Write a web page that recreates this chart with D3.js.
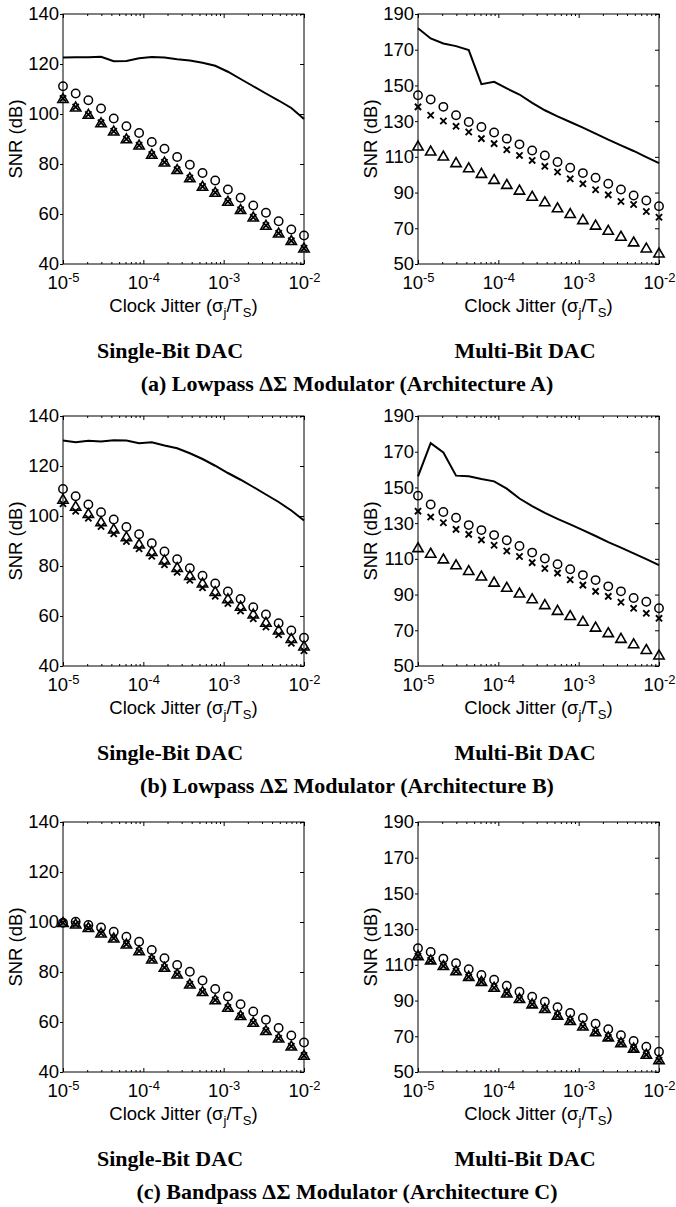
<!DOCTYPE html>
<html>
<head>
<meta charset="utf-8">
<script src="https://cdn.jsdelivr.net/npm/d3@7"></script>
<style>
  body { margin: 0; background: #fff; }
  svg { display: block; background: #fff; }
</style>
</head>
<body>
<svg class="chart"></svg>
<script>
//-----------------------------------------------------------------------
// SNR vs clock jitter, 3 modulator architectures x 2 DAC types
//-----------------------------------------------------------------------
const width = 676
const height = 1207

// jitter sample points (sigma_j / T_S), 20 points per decade sweep
const jitter = [1.000e-5, 1.438e-5, 2.069e-5, 2.976e-5, 4.281e-5, 6.158e-5, 8.859e-5,
  1.274e-4, 1.833e-4, 2.637e-4, 3.793e-4, 5.456e-4, 7.848e-4, 1.129e-3,
  1.624e-3, 2.336e-3, 3.360e-3, 4.833e-3, 6.952e-3, 1.000e-2]

// (a) architecture A, single-bit DAC
const lineA1  = [122.6, 122.7, 122.7, 122.9, 121.1, 121.2, 122.3, 122.8, 122.6, 121.9, 121.4, 120.5, 119.3, 116.9, 114.0, 111.1, 108.2, 105.4, 102.4, 98.0]
const circA1  = [111.1, 108.2, 105.5, 102.2, 98.2, 95.1, 92.4, 88.8, 86.1, 82.8, 79.7, 76.4, 73.4, 69.8, 66.5, 63.4, 60.5, 57.1, 53.8, 51.4]
const crossA1 = [106.2, 102.8, 99.8, 96.5, 93.1, 90.0, 87.5, 83.8, 80.7, 77.7, 74.4, 71.0, 68.6, 65.0, 61.7, 58.7, 55.4, 52.3, 49.3, 46.3]
const triA1   = [105.8, 102.4, 99.5, 96.1, 92.8, 89.7, 87.2, 83.5, 80.4, 77.4, 74.1, 70.7, 68.3, 64.7, 61.4, 58.4, 55.1, 52.0, 49.0, 46.0]

// (a) architecture A, multi-bit DAC
const lineA2  = [182.0, 176.3, 173.5, 172.0, 169.8, 150.7, 152.0, 148.3, 144.9, 140.2, 136.1, 132.7, 129.5, 126.4, 123.0, 119.6, 116.4, 113.3, 109.9, 106.5]
const circA2  = [144.5, 142.1, 138.0, 133.3, 129.5, 126.7, 123.6, 120.2, 117.0, 113.6, 110.8, 107.1, 103.9, 100.9, 98.3, 94.9, 91.7, 88.4, 85.6, 82.4]
const crossA2 = [138.0, 133.3, 130.1, 127.1, 123.9, 120.2, 117.4, 114.0, 110.8, 108.0, 104.7, 101.5, 97.7, 94.9, 91.6, 88.7, 85.0, 83.3, 79.4, 76.2]
const triA2   = [115.5, 112.7, 109.9, 106.2, 103.3, 100.2, 96.8, 94.0, 90.8, 87.4, 84.3, 80.9, 77.7, 74.3, 71.2, 68.3, 65.0, 61.8, 58.4, 55.6]

// (b) architecture B, single-bit DAC
const lineB1  = [130.2, 129.5, 130.1, 129.8, 130.3, 130.2, 129.1, 129.5, 128.2, 127.1, 125.1, 122.8, 120.1, 117.2, 114.5, 111.6, 108.6, 105.6, 102.2, 98.2]
const circB1  = [110.8, 107.9, 104.6, 101.5, 98.6, 95.6, 92.7, 89.1, 85.8, 82.7, 79.1, 76.1, 73.0, 69.8, 66.8, 63.5, 60.6, 57.1, 54.2, 51.3]
const crossB1 = [104.9, 101.9, 99.1, 95.8, 92.9, 89.8, 86.9, 83.9, 80.5, 77.5, 74.3, 71.3, 67.9, 65.0, 62.0, 58.9, 55.6, 52.5, 49.1, 46.1]
const triB1   = [106.3, 103.5, 100.6, 97.3, 94.4, 91.3, 88.4, 85.4, 82.0, 79.0, 75.8, 72.8, 69.4, 66.5, 63.5, 60.4, 57.1, 54.0, 50.6, 47.6]

// (b) architecture B, multi-bit DAC
const lineB2  = [156.2, 174.8, 169.6, 156.6, 156.2, 154.7, 153.4, 149.3, 143.8, 139.5, 135.8, 132.4, 129.3, 126.1, 122.8, 119.4, 116.3, 113.1, 109.8, 106.5]
const circB2  = [145.4, 140.4, 136.2, 133.0, 128.9, 126.1, 123.3, 120.4, 117.2, 113.5, 110.2, 107.0, 104.2, 100.9, 98.1, 94.6, 91.8, 88.1, 86.0, 82.3]
const crossB2 = [136.7, 133.4, 130.2, 126.5, 123.7, 120.6, 117.6, 114.4, 111.3, 107.9, 104.6, 102.0, 98.3, 95.3, 91.8, 89.0, 85.7, 82.3, 79.5, 76.7]
const triB2   = [115.7, 112.6, 109.4, 106.1, 102.9, 99.8, 96.4, 93.5, 90.3, 87.1, 83.8, 80.6, 77.7, 74.5, 71.2, 68.1, 64.9, 61.9, 58.7, 55.6]

// (c) architecture C (bandpass), no solid curve
const circC1  = [99.7, 100.1, 98.8, 97.8, 96.1, 94.1, 92.1, 88.8, 85.5, 82.8, 80.1, 76.6, 73.2, 70.2, 67.1, 64.2, 60.9, 57.6, 54.6, 51.8]
const crossC1 = [99.7, 99.1, 97.7, 95.5, 93.5, 91.1, 88.4, 85.1, 81.8, 79.1, 75.1, 72.1, 68.8, 65.8, 62.5, 59.8, 56.5, 53.5, 50.3, 46.6]
const triC1   = [99.4, 98.8, 97.4, 95.2, 93.2, 90.8, 88.1, 84.8, 81.5, 78.8, 74.8, 71.8, 68.5, 65.5, 62.2, 59.5, 56.2, 53.2, 50.0, 46.3]

const circC2  = [119.3, 117.2, 113.5, 110.9, 107.6, 104.3, 101.7, 98.3, 95.0, 92.2, 89.4, 86.3, 83.1, 80.2, 77.0, 73.9, 70.6, 67.4, 64.1, 61.3]
const crossC2 = [114.9, 112.5, 109.4, 106.4, 103.3, 100.5, 97.2, 94.0, 90.9, 87.9, 85.3, 81.6, 78.6, 75.5, 72.3, 69.4, 66.2, 63.1, 59.7, 56.6]
const triC2   = [114.6, 112.2, 109.1, 106.1, 103.0, 100.2, 96.9, 93.7, 90.6, 87.6, 85.0, 81.3, 78.3, 75.2, 72.0, 69.1, 65.9, 62.8, 59.4, 56.3]

// axes
const yDomains = [[40, 140], [50, 190]]
const yTicks = [[40, 60, 80, 100, 120, 140], [50, 70, 90, 110, 130, 150, 170, 190]]
const xMajor = [1e-5, 1e-4, 1e-3, 1e-2]
const xMinor = [2e-5, 3e-5, 4e-5, 5e-5, 6e-5, 7e-5, 8e-5, 9e-5,
  2e-4, 3e-4, 4e-4, 5e-4, 6e-4, 7e-4, 8e-4, 9e-4,
  2e-3, 3e-3, 4e-3, 5e-3, 6e-3, 7e-3, 8e-3, 9e-3]

// text
const colTitles = ['Single-Bit DAC', 'Multi-Bit DAC']
const rowTitles = ['(a) Lowpass \u0394\u03A3 Modulator (Architecture A)',
  '(b) Lowpass \u0394\u03A3 Modulator (Architecture B)',
  '(c) Bandpass \u0394\u03A3 Modulator (Architecture C)']

const panels = [
  { row: 0, col: 0, line: lineA1, circ: circA1, cross: crossA1, tri: triA1 },
  { row: 0, col: 1, line: lineA2, circ: circA2, cross: crossA2, tri: triA2 },
  { row: 1, col: 0, line: lineB1, circ: circB1, cross: crossB1, tri: triB1 },
  { row: 1, col: 1, line: lineB2, circ: circB2, cross: crossB2, tri: triB2 },
  { row: 2, col: 0, line: null, circ: circC1, cross: crossC1, tri: triC1 },
  { row: 2, col: 1, line: null, circ: circC2, cross: crossC2, tri: triC2 }
]

//--------------------LAYOUT----------------------//
const colLeft = [63, 418]
const rowTop = [14, 416, 822]
const plotW = 241
const plotH = 250
const sans = '"Liberation Sans", Arial, Helvetica, sans-serif'
const serif = '"Liberation Serif", "Times New Roman", Times, serif'
const fs = 18.5

const svg = d3.select('svg.chart')
  .attr('width', width)
  .attr('height', height)
  .attr('viewBox', `0 0 ${width} ${height}`)

const xScale = d3.scaleLog().domain([1e-5, 1e-2]).range([0, plotW])

function drawPanel(p) {
  const g = svg.append('g')
    .attr('transform', `translate(${colLeft[p.col]}, ${rowTop[p.row]})`)

  const yScale = d3.scaleLinear().domain(yDomains[p.col]).range([plotH, 0])

  // box
  g.append('rect')
    .attr('width', plotW).attr('height', plotH)
    .attr('fill', 'none').attr('stroke', '#000').attr('stroke-width', 1)

  // left axis with labels, right axis ticks only
  g.append('g')
    .call(d3.axisLeft(yScale).tickValues(yTicks[p.col]).tickSize(3).tickPadding(1))
    .call(a => a.select('.domain').remove())
    .attr('font-size', fs).attr('font-family', sans)

  g.append('g')
    .attr('transform', `translate(${plotW}, 0)`)
    .call(d3.axisRight(yScale).tickValues(yTicks[p.col]).tickSize(-4).tickFormat(''))
    .call(a => a.select('.domain').remove())

  // bottom axis: decade labels as 10^n
  g.append('g')
    .attr('transform', `translate(0, ${plotH})`)
    .call(d3.axisBottom(xScale).tickValues(xMajor).tickSize(-4).tickPadding(12))
    .call(a => a.select('.domain').remove())
    .attr('font-size', fs).attr('font-family', sans)
    .call(a => a.selectAll('.tick text').text(null).each(function (d) {
      const t = d3.select(this)
      t.append('tspan').text('10')
      t.append('tspan').attr('dy', '-0.55em').attr('font-size', 13).text(Math.round(Math.log10(d)))
    }))

  g.append('g')
    .attr('transform', `translate(0, ${plotH})`)
    .call(d3.axisBottom(xScale).tickValues(xMinor).tickSize(-2).tickFormat(''))
    .call(a => a.select('.domain').remove())

  // top axis ticks
  g.append('g')
    .call(d3.axisTop(xScale).tickValues(xMajor).tickSize(-4).tickFormat(''))
    .call(a => a.select('.domain').remove())
  g.append('g')
    .call(d3.axisTop(xScale).tickValues(xMinor).tickSize(-2).tickFormat(''))
    .call(a => a.select('.domain').remove())

  // axis titles
  g.append('text')
    .attr('transform', `translate(-41, ${plotH / 2}) rotate(-90)`)
    .attr('text-anchor', 'middle')
    .attr('font-family', sans).attr('font-size', fs)
    .text('SNR (dB)')

  const xl = g.append('text')
    .attr('x', plotW / 2).attr('y', plotH + 48)
    .attr('text-anchor', 'middle')
    .attr('font-family', sans).attr('font-size', fs)
  xl.append('tspan').text('Clock Jitter (\u03C3')
  xl.append('tspan').attr('dy', 5).attr('font-size', 13).text('j')
  xl.append('tspan').attr('dy', -5).text('/T')
  xl.append('tspan').attr('dy', 5).attr('font-size', 13).text('S')
  xl.append('tspan').attr('dy', -5).text(')')

  g.append('text')
    .attr('x', 107).attr('y', plotH + 94)
    .attr('text-anchor', 'middle')
    .attr('font-family', serif).attr('font-weight', 'bold').attr('font-size', 22)
    .text(colTitles[p.col])

  // data
  const plot = g.append('g')

  if (p.line) {
    const line = d3.line()
      .x((d, i) => xScale(jitter[i]))
      .y(d => yScale(d))
    plot.append('path')
      .datum(p.line)
      .attr('d', line)
      .attr('fill', 'none').attr('stroke', '#000').attr('stroke-width', 2)
  }

  plot.selectAll('circle.circ')
    .data(p.circ)
    .join('circle')
    .attr('class', 'circ')
    .attr('cx', (d, i) => xScale(jitter[i]))
    .attr('cy', d => yScale(d))
    .attr('r', 4.2)
    .attr('fill', 'none').attr('stroke', '#000').attr('stroke-width', 1.5)

  const tri = d3.symbol().type(d3.symbolTriangle).size(46)
  plot.selectAll('path.tri')
    .data(p.tri)
    .join('path')
    .attr('class', 'tri')
    .attr('d', tri)
    .attr('transform', (d, i) => `translate(${xScale(jitter[i])}, ${yScale(d)})`)
    .attr('fill', 'none').attr('stroke', '#000').attr('stroke-width', 1.6)

  const s = 3.1
  plot.selectAll('path.cross')
    .data(p.cross)
    .join('path')
    .attr('class', 'cross')
    .attr('d', `M${-s},${-s}L${s},${s}M${-s},${s}L${s},${-s}`)
    .attr('transform', (d, i) => `translate(${xScale(jitter[i])}, ${yScale(d)})`)
    .attr('fill', 'none').attr('stroke', '#000').attr('stroke-width', 1.9)
}

panels.forEach(drawPanel)

// row captions
svg.selectAll('text.caption')
  .data(rowTitles)
  .join('text')
  .attr('class', 'caption')
  .attr('x', 347)
  .attr('y', (d, i) => rowTop[i] + plotH + 127)
  .attr('text-anchor', 'middle')
  .attr('font-family', serif).attr('font-weight', 'bold').attr('font-size', 22)
  .text(d => d)
</script>
</body>
</html>
